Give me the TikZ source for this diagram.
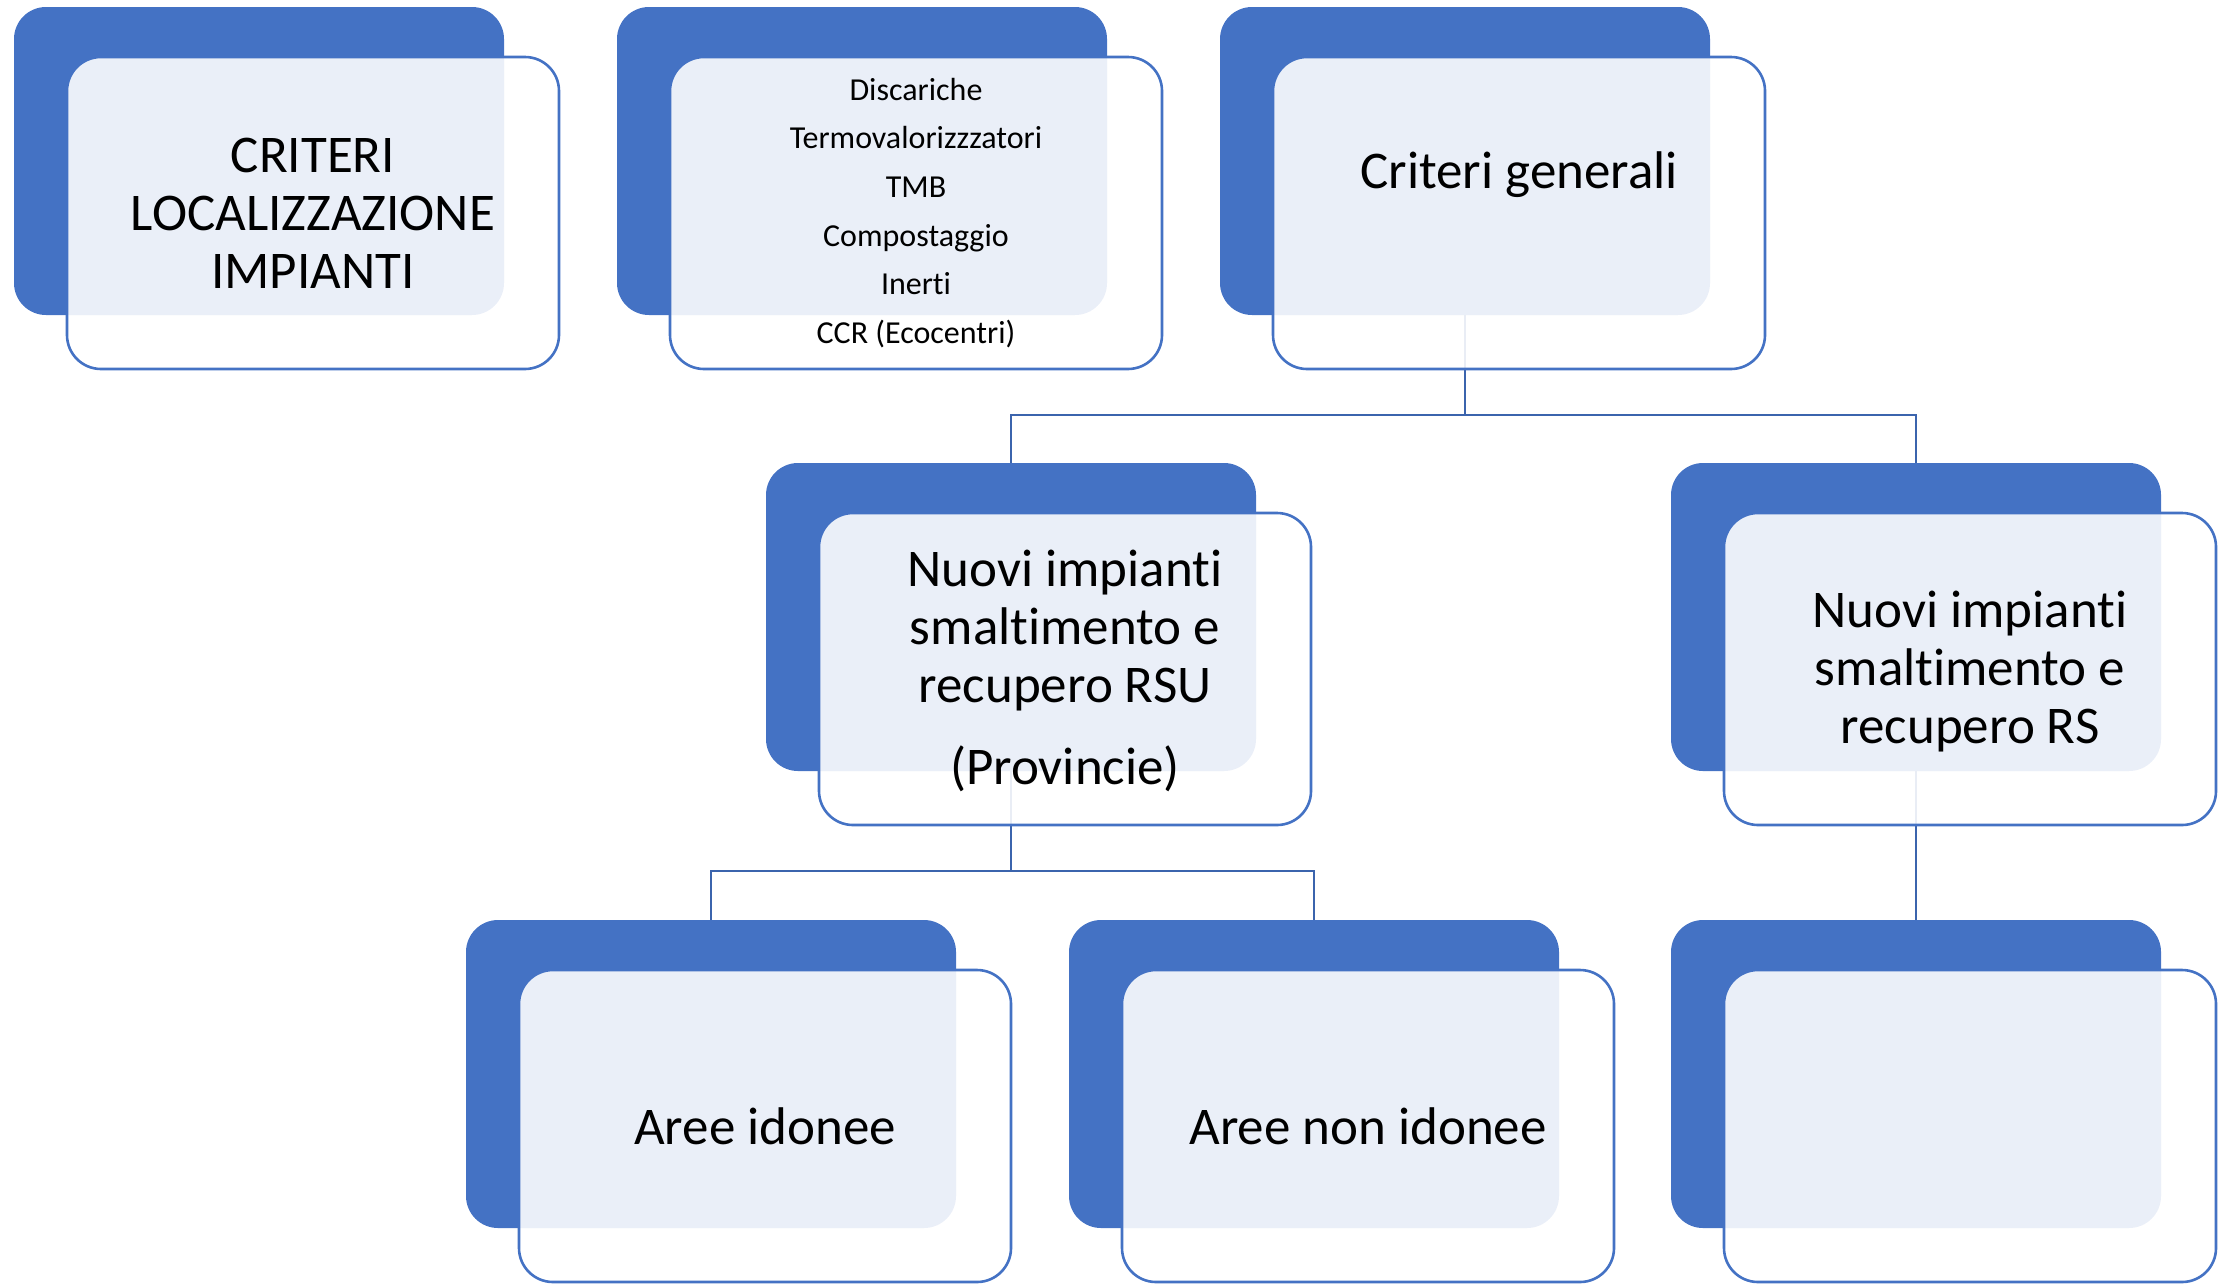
\documentclass[tikz,border=0pt]{standalone}
\usepackage{fontspec}
\setmainfont{Carlito}[Ligatures=NoCommon]
\usetikzlibrary{calc}
\definecolor{accent}{HTML}{4472C4}
\definecolor{linkblue}{HTML}{3B64AD}
\tikzset{
  backcard/.style={rectangle, rounded corners=32pt, fill=accent,
    minimum width=490pt, minimum height=308pt, inner sep=0pt, outer sep=0pt, anchor=north west},
  frontcard/.style={rectangle, rounded corners=34pt, fill=white, fill opacity=0.89,
    draw=accent, line width=2.6pt, minimum width=492pt, minimum height=312pt,
    inner sep=0pt, outer sep=0pt, anchor=north west},
  bigtext/.style={align=center, text=black, font=\fontsize{53}{58}\selectfont},
  smalltext/.style={align=center, text=black, font=\fontsize{32}{48.7}\selectfont},
  link/.style={draw=linkblue, line width=2.6pt},
}
\begin{document}
\begin{tikzpicture}[x=1pt,y=-1pt]
\useasboundingbox (0,0) rectangle (2234,1283);

% solid back cards
\node[backcard] (b1) at (14,7) {};
\node[backcard] (b2) at (617,7) {};
\node[backcard] (b3) at (1220,7) {};
\node[backcard] (b4) at (766,463) {};
\node[backcard] (b5) at (1671,463) {};
\node[backcard] (b6) at (466,920) {};
\node[backcard] (b7) at (1069,920) {};
\node[backcard] (b8) at (1671,920) {};

% tree connectors (drawn under the translucent front cards)
\coordinate (j1) at ($(b3.south)+(0,100)$);
\coordinate (j2) at ($(b4.south)+(0,100)$);
\draw[link] (b3.south) -- (j1);
\draw[link] (j1) -| (b4.north);
\draw[link] (j1) -| (b5.north);
\draw[link] (b4.south) -- (j2);
\draw[link] (j2) -| (b6.north);
\draw[link] (j2) -| (b7.north);
\draw[link] (b5.south) -- (b8.north);

% translucent front cards
\node[frontcard] (f1) at (67,57) {};
\node[frontcard] (f2) at (670,57) {};
\node[frontcard] (f3) at (1273,57) {};
\node[frontcard] (f4) at (819,513) {};
\node[frontcard] (f5) at (1724,513) {};
\node[frontcard] (f6) at (519,970) {};
\node[frontcard] (f7) at (1122,970) {};
\node[frontcard] (f8) at (1724,970) {};

% labels
\node[bigtext] (t1) at (f1.center) {CRITERI\\LOCALIZZAZIONE\\IMPIANTI};
\node[smalltext] (t2) at (f2.center) {Discariche\\Termovalorizzzatori\\TMB\\Compostaggio\\Inerti\\CCR (Ecocentri)};
\node[bigtext] (t3) at ($(f3.center)+(0,-38)$) {Criteri generali};
\node[bigtext] (t4) at ($(f4.center)+(0,2)$) {Nuovi impianti\\smaltimento e\\recupero RSU\\[24pt](Provincie)};
\node[bigtext] (t5) at ($(f5.center)+(0,3)$) {Nuovi impianti\\smaltimento e\\recupero RS};
\node[bigtext] (t6) at (f6.center) {Aree idonee};
\node[bigtext] (t7) at (f7.center) {Aree non idonee};
\end{tikzpicture}
\end{document}
